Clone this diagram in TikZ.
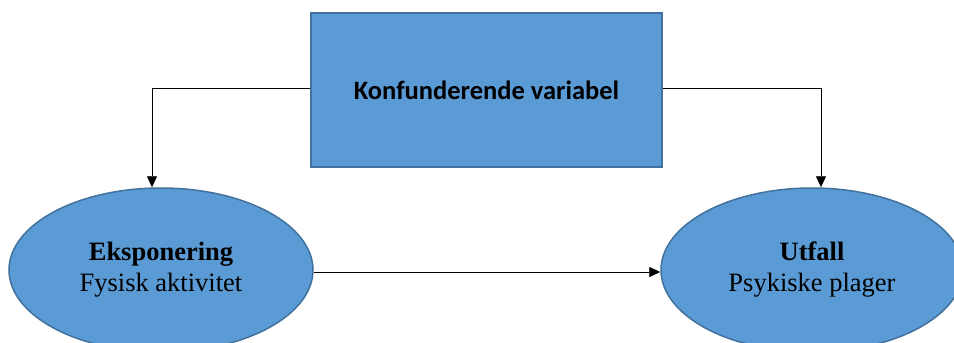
\documentclass[tikz,border=0pt]{standalone}
\usepackage{fontspec}
\setmainfont{Liberation Serif}
\newfontfamily\boxfont{Carlito}
\usepackage{tikz}
\usetikzlibrary{arrows.meta}
\usetikzlibrary{shapes.geometric}

\definecolor{fillblue}{HTML}{5B9BD5}
\definecolor{edgeblue}{HTML}{41719C}

\begin{document}
\begin{tikzpicture}[x=1pt,y=-1pt,
	block/.style={draw=edgeblue,line width=1.5pt,fill=fillblue,inner sep=0pt},
	arr/.style={-{Triangle[length=11pt,width=10pt]},line width=0.8pt}]
	\useasboundingbox (0,0) rectangle (954,343);
	\node[block,minimum width=351pt,minimum height=154pt] (konf) at (486.5,90)
		{\boxfont\bfseries\fontsize{26.5}{30}\selectfont Konfunderende variabel};
	\node[block,ellipse,minimum width=304pt,minimum height=164pt] (eksp) at (161,270)
		{\fontsize{26.5}{31}\selectfont\begin{tabular}{c}\textbf{Eksponering}\\Fysisk aktivitet\end{tabular}};
	\node[block,ellipse,minimum width=302pt,minimum height=164pt] (utf) at (812,270)
		{\fontsize{26.5}{31}\selectfont\begin{tabular}{c}\textbf{Utfall}\\Psykiske plager\end{tabular}};
	\coordinate (ekspTop) at ([xshift=-9pt]eksp.north);
	\coordinate (utfTop) at ([xshift=9pt]utf.north);

	\draw[arr] ([yshift=2pt]konf.west) -| (ekspTop);
	\draw[arr] ([yshift=2pt]konf.east) -| (utfTop);
	\draw[arr] ([yshift=-2pt]eksp.east) -- ([yshift=-2pt]utf.west);
\end{tikzpicture}
\end{document}
